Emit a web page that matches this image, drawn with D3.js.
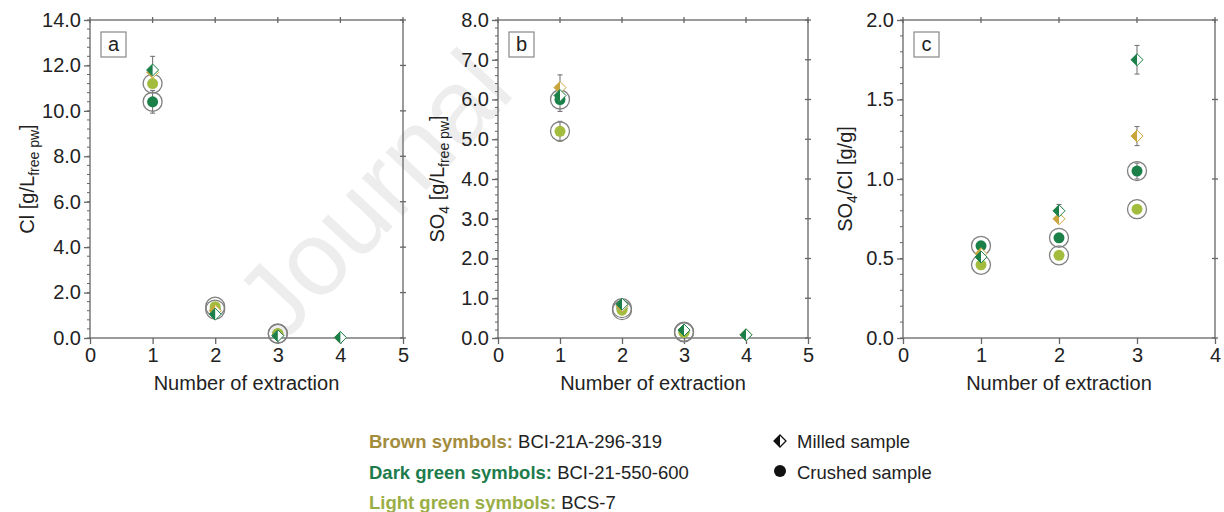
<!DOCTYPE html>
<html>
<head>
<meta charset="utf-8">
<script src="https://cdn.jsdelivr.net/npm/d3@7"></script>
<style>
  html, body { margin: 0; padding: 0; background: #fff; }
  svg { display: block; font-family: "Liberation Sans", Arial, sans-serif; }
</style>
</head>
<body>
<svg id="chart" width="1224" height="512"></svg>
<script>
// Extraction steps
const extraction = [1, 2, 3, 4];

// Panel a: Cl [g/L free pore water]
const clBrownMilled = [11.7, 1.2, 0.12, 0.02];
const clDarkMilled = [11.8, 1.05, 0.1, 0.02];
const clDarkCrushed = [10.4, 1.25, 0.18];
const clLightCrushed = [11.2, 1.38, 0.2];
const clDarkMilledErr = [0.6, 0, 0, 0];
const clDarkCrushedErr = [0.5, 0, 0];

// Panel b: SO4 [g/L free pore water]
const so4BrownMilled = [6.3, 0.8, 0.2, 0.08];
const so4DarkMilled = [6.1, 0.85, 0.2, 0.08];
const so4DarkCrushed = [6.0, 0.75, 0.16];
const so4LightCrushed = [5.2, 0.7, 0.14];
const so4BrownMilledErr = [0.32, 0, 0, 0];
const so4DarkCrushedErr = [0.3, 0, 0];
const so4LightCrushedErr = [0.25, 0, 0];

// Panel c: SO4/Cl [g/g]
const ratioBrownMilled = [0.53, 0.75, 1.27];
const ratioDarkMilled = [0.51, 0.80, 1.75];
const ratioDarkCrushed = [0.58, 0.63, 1.05];
const ratioLightCrushed = [0.46, 0.52, 0.81];
const ratioBrownMilledErr = [0, 0, 0.06];
const ratioDarkMilledErr = [0, 0.04, 0.09];
const ratioDarkCrushedErr = [0, 0, 0.05];

// Axis ticks
const xTicksAB = [0, 1, 2, 3, 4, 5];
const xTicksC = [0, 1, 2, 3, 4];
const yTicksA = [0, 2, 4, 6, 8, 10, 12, 14];
const yTicksB = [0, 1, 2, 3, 4, 5, 6, 7, 8];
const yTicksC = [0, 0.5, 1.0, 1.5, 2.0];

const COLORS = { brown: "#c9a53e", dark: "#1b7f48", light: "#a2bd3e" };
const AXIS = "#666";

const svg = d3.select("#chart");

// Faint diagonal watermark behind the first two panels
svg.append("text")
  .attr("transform", "translate(282,345) rotate(-47)")
  .attr("font-size", 105)
  .attr("fill", "#ededed")
  .attr("font-family", "Liberation Sans, Arial, sans-serif")
  .text("Journal");

function panel(cfg) {
  const x = d3.scaleLinear().domain(cfg.xDomain).range([cfg.left, cfg.right]);
  const y = d3.scaleLinear().domain(cfg.yDomain).range([cfg.bottom, cfg.top]);
  const g = svg.append("g");

  // frame
  g.append("rect")
    .attr("x", cfg.left).attr("y", cfg.top)
    .attr("width", cfg.right - cfg.left).attr("height", cfg.bottom - cfg.top)
    .attr("fill", "none").attr("stroke", AXIS).attr("stroke-width", 1.3);

  // bottom axis
  const xAxis = d3.axisBottom(x).tickValues(cfg.xTicks).tickFormat(d3.format("d"))
    .tickSizeInner(6).tickSizeOuter(0).tickPadding(4);
  const gx = g.append("g").attr("transform", `translate(0,${cfg.bottom})`).call(xAxis);
  gx.select(".domain").remove();
  gx.selectAll("line").attr("stroke", AXIS).attr("stroke-width", 1.3);
  gx.selectAll("text").attr("font-size", 20).attr("fill", "#222");

  // mirrored ticks on top
  g.append("g").selectAll("line").data(cfg.xTicks).join("line")
    .attr("x1", d => x(d)).attr("x2", d => x(d))
    .attr("y1", cfg.top - 3).attr("y2", cfg.top + 3)
    .attr("stroke", AXIS).attr("stroke-width", 1.3);

  // left axis
  const yAxis = d3.axisLeft(y).tickValues(cfg.yTicks).tickFormat(d3.format(".1f"))
    .tickSizeInner(6).tickSizeOuter(0).tickPadding(3);
  const gy = g.append("g").attr("transform", `translate(${cfg.left},0)`).call(yAxis);
  gy.select(".domain").remove();
  gy.selectAll("line").attr("stroke", AXIS).attr("stroke-width", 1.3);
  gy.selectAll("text").attr("font-size", 20).attr("fill", "#222");

  // minor y ticks
  const minor = [];
  const [y0, y1] = cfg.yDomain;
  const n = Math.round((y1 - y0) / cfg.yMinor);
  for (let i = 0; i <= n; i++) minor.push(y0 + i * cfg.yMinor);
  g.append("g").selectAll("line").data(minor).join("line")
    .attr("x1", cfg.left - 3).attr("x2", cfg.left)
    .attr("y1", d => y(d)).attr("y2", d => y(d))
    .attr("stroke", AXIS).attr("stroke-width", 1);
  // mirrored ticks on right
  g.append("g").selectAll("line").data(cfg.yTicks).join("line")
    .attr("x1", cfg.right - 3).attr("x2", cfg.right + 3)
    .attr("y1", d => y(d)).attr("y2", d => y(d))
    .attr("stroke", AXIS).attr("stroke-width", 1.3);

  // x label
  g.append("text")
    .attr("x", (cfg.left + cfg.right) / 2 + cfg.xLabelShift).attr("y", cfg.bottom + 52)
    .attr("text-anchor", "middle").attr("font-size", 20).attr("fill", "#222")
    .text("Number of extraction");

  // y label
  const yl = g.append("text")
    .attr("transform", `translate(${cfg.yLabelX},${(cfg.top + cfg.bottom) / 2}) rotate(-90)`)
    .attr("text-anchor", "middle").attr("font-size", 20).attr("fill", "#222");
  cfg.yLabel.forEach(part => {
    const t = yl.append("tspan").text(part.t);
    if (part.sub) t.attr("font-size", 14).attr("dy", 5);
    if (part.up) t.attr("dy", -5);
  });

  // panel letter box
  g.append("rect")
    .attr("x", cfg.left + 11).attr("y", cfg.top + 12)
    .attr("width", 25).attr("height", 25)
    .attr("fill", "#fff").attr("stroke", "#888").attr("stroke-width", 1.2);
  g.append("text")
    .attr("x", cfg.left + 23.5).attr("y", cfg.top + 31)
    .attr("text-anchor", "middle").attr("font-size", 20).attr("fill", "#222")
    .text(cfg.letter);

  // error bars
  cfg.errors.forEach(e => {
    const pts = e.err.map((v, i) => ({ x: extraction[i], v: e.values[i], err: v })).filter(d => d.err > 0);
    const eg = g.append("g").attr("stroke", "#777").attr("stroke-width", 1.1);
    eg.selectAll("line.v").data(pts).join("line").attr("class", "v")
      .attr("x1", d => x(d.x)).attr("x2", d => x(d.x))
      .attr("y1", d => y(d.v - d.err)).attr("y2", d => y(d.v + d.err));
    eg.selectAll("line.t").data(pts).join("line").attr("class", "t")
      .attr("x1", d => x(d.x) - 2.5).attr("x2", d => x(d.x) + 2.5)
      .attr("y1", d => y(d.v + d.err)).attr("y2", d => y(d.v + d.err));
    eg.selectAll("line.b").data(pts).join("line").attr("class", "b")
      .attr("x1", d => x(d.x) - 2.5).attr("x2", d => x(d.x) + 2.5)
      .attr("y1", d => y(d.v - d.err)).attr("y2", d => y(d.v - d.err));
  });

  // crushed samples: filled circle inside a grey ring
  cfg.crushed.forEach(s => {
    const pts = s.values.map((v, i) => ({ x: extraction[i], v }));
    g.append("g").selectAll("circle").data(pts).join("circle")
      .attr("cx", d => x(d.x)).attr("cy", d => y(d.v)).attr("r", 9.5)
      .attr("fill", "none").attr("stroke", "#808080").attr("stroke-width", 1.3);
  });
  cfg.crushed.forEach(s => {
    const pts = s.values.map((v, i) => ({ x: extraction[i], v }));
    g.append("g").selectAll("circle").data(pts).join("circle")
      .attr("cx", d => x(d.x)).attr("cy", d => y(d.v)).attr("r", 5.5)
      .attr("fill", s.color);
  });

  // milled samples: half-filled diamonds
  cfg.milled.forEach(s => {
    const pts = s.values.map((v, i) => ({ x: extraction[i], v }));
    const dg = g.append("g").selectAll("g").data(pts).join("g")
      .attr("transform", d => `translate(${x(d.x)},${y(d.v)})`);
    dg.append("path").attr("d", "M0,-6L6,0L0,6L-6,0Z")
      .attr("fill", "#fff").attr("stroke", s.color).attr("stroke-width", 1);
    dg.append("path").attr("d", "M0,-6L0,6L-6,0Z").attr("fill", s.color);
  });
}

panel({
  letter: "a", left: 90, right: 403, top: 20, bottom: 338,
  xDomain: [0, 5], yDomain: [0, 14], xTicks: xTicksAB, yTicks: yTicksA, yMinor: 0.4,
  yLabelX: 34, xLabelShift: 0,
  yLabel: [{ t: "Cl [g/L" }, { t: "free pw", sub: true }, { t: "]", up: true }],
  errors: [
    { values: clDarkMilled, err: clDarkMilledErr },
    { values: clDarkCrushed, err: clDarkCrushedErr }
  ],
  crushed: [
    { values: clDarkCrushed, color: COLORS.dark },
    { values: clLightCrushed, color: COLORS.light }
  ],
  milled: [
    { values: clBrownMilled, color: COLORS.brown },
    { values: clDarkMilled, color: COLORS.dark }
  ]
});

panel({
  letter: "b", left: 498, right: 808, top: 20, bottom: 338,
  xDomain: [0, 5], yDomain: [0, 8], xTicks: xTicksAB, yTicks: yTicksB, yMinor: 0.2,
  yLabelX: 444, xLabelShift: 0,
  yLabel: [{ t: "SO" }, { t: "4", sub: true }, { t: " [g/L", up: true }, { t: "free pw", sub: true }, { t: "]", up: true }],
  errors: [
    { values: so4BrownMilled, err: so4BrownMilledErr },
    { values: so4DarkCrushed, err: so4DarkCrushedErr },
    { values: so4LightCrushed, err: so4LightCrushedErr }
  ],
  crushed: [
    { values: so4DarkCrushed, color: COLORS.dark },
    { values: so4LightCrushed, color: COLORS.light }
  ],
  milled: [
    { values: so4BrownMilled, color: COLORS.brown },
    { values: so4DarkMilled, color: COLORS.dark }
  ]
});

panel({
  letter: "c", left: 903, right: 1215, top: 20, bottom: 338,
  xDomain: [0, 4], yDomain: [0, 2], xTicks: xTicksC, yTicks: yTicksC, yMinor: 0.1,
  yLabelX: 852, xLabelShift: 0,
  yLabel: [{ t: "SO" }, { t: "4", sub: true }, { t: "/Cl [g/g]", up: true }],
  errors: [
    { values: ratioBrownMilled, err: ratioBrownMilledErr },
    { values: ratioDarkMilled, err: ratioDarkMilledErr },
    { values: ratioDarkCrushed, err: ratioDarkCrushedErr }
  ],
  crushed: [
    { values: ratioDarkCrushed, color: COLORS.dark },
    { values: ratioLightCrushed, color: COLORS.light }
  ],
  milled: [
    { values: ratioBrownMilled, color: COLORS.brown },
    { values: ratioDarkMilled, color: COLORS.dark }
  ]
});

// Legend: sample colours
const legendRows = [
  { key: "Brown symbols", color: "#a38c3c", sample: "BCI-21A-296-319" },
  { key: "Dark green symbols", color: "#1e7c4c", sample: "BCI-21-550-600" },
  { key: "Light green symbols", color: "#9aae46", sample: "BCS-7" }
];
const lg = svg.append("g");
legendRows.forEach((r, i) => {
  const t = lg.append("text").attr("x", 369).attr("y", 448 + i * 30.5).attr("font-size", 18.5).attr("fill", "#222");
  t.append("tspan").attr("font-weight", "bold").attr("fill", r.color).text(r.key);
  t.append("tspan").attr("font-weight", "bold").attr("fill", r.color).text(":");
  t.append("tspan").text(" " + r.sample);
});

// Legend: sample preparation symbols
const dm = lg.append("g").attr("transform", "translate(780,441)");
dm.append("path").attr("d", "M0,-6L6,0L0,6L-6,0Z").attr("fill", "#fff").attr("stroke", "#111").attr("stroke-width", 1.3);
dm.append("path").attr("d", "M0,-6L0,6L-6,0Z").attr("fill", "#111");
lg.append("text").attr("x", 797).attr("y", 448).attr("font-size", 18.5).attr("fill", "#222").text("Milled sample");
lg.append("circle").attr("cx", 780).attr("cy", 471).attr("r", 6).attr("fill", "#111");
lg.append("text").attr("x", 797).attr("y", 478.5).attr("font-size", 18.5).attr("fill", "#222").text("Crushed sample");
</script>
</body>
</html>
